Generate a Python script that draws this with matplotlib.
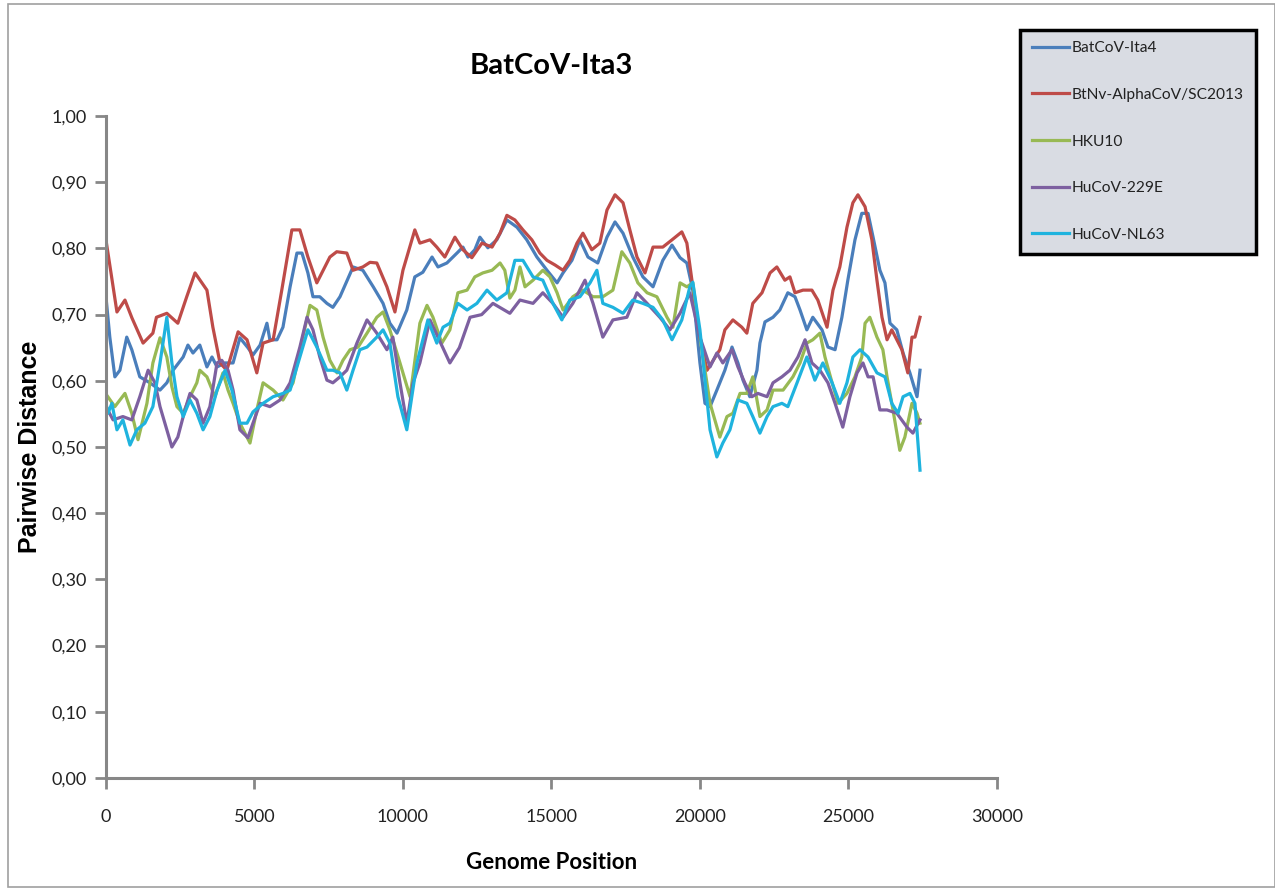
import matplotlib
matplotlib.use("Agg")
import matplotlib.pyplot as plt
import matplotlib.patches as mpatches
from matplotlib.ticker import FuncFormatter, MultipleLocator

# ─── DATA ────────────────────────────────────────────────────────────────────
ita4_x = [0, 130, 300, 470, 700, 870, 1140, 1480, 1820, 2050, 2260, 2600, 2760, 2930,
          3160, 3400, 3570, 3740, 4010, 4280, 4510, 4780, 4950, 5190, 5420, 5520, 5760,
          5960, 6200, 6430, 6600, 6800, 6970, 7200, 7440, 7640, 7880, 8320, 8650, 9000,
          9330, 9560, 9800, 10130, 10400, 10670, 10980, 11180, 11480, 11820, 12020, 12190,
          12420, 12590, 12860, 13160, 13500, 13840, 14170, 14510, 14850, 15190, 15390,
          15690, 15960, 16230, 16560, 16870, 17140, 17410, 17740, 18080, 18420, 18750,
          19060, 19330, 19560, 19760, 20000, 20170, 20340, 20570, 20840, 21080, 21280,
          21450, 21680, 21920, 22020, 22190, 22460, 22690, 22960, 23200, 23370, 23600,
          23800, 24110, 24310, 24550, 24780, 24980, 25220, 25450, 25660, 25830, 26060,
          26230, 26400, 26630, 26840, 27070, 27310, 27410]
ita4_y = [0.727, 0.666, 0.606, 0.616, 0.666, 0.647, 0.606, 0.597, 0.586, 0.597, 0.616,
          0.636, 0.654, 0.642, 0.654, 0.621, 0.636, 0.621, 0.627, 0.627, 0.665, 0.650,
          0.639, 0.654, 0.687, 0.662, 0.662, 0.681, 0.742, 0.793, 0.793, 0.763, 0.727,
          0.727, 0.717, 0.711, 0.727, 0.772, 0.767, 0.742, 0.717, 0.687, 0.672, 0.707,
          0.757, 0.764, 0.787, 0.772, 0.778, 0.793, 0.802, 0.787, 0.798, 0.817, 0.801,
          0.813, 0.843, 0.832, 0.813, 0.787, 0.767, 0.748, 0.763, 0.782, 0.813, 0.787,
          0.778, 0.817, 0.840, 0.823, 0.787, 0.757, 0.742, 0.782, 0.805, 0.786, 0.778,
          0.737, 0.627, 0.566, 0.561, 0.586, 0.616, 0.651, 0.627, 0.601, 0.576, 0.616,
          0.657, 0.689, 0.696, 0.707, 0.733, 0.727, 0.707, 0.677, 0.696, 0.677, 0.651,
          0.647, 0.696, 0.752, 0.813, 0.853, 0.853, 0.817, 0.767, 0.748, 0.687, 0.677,
          0.642, 0.612, 0.576, 0.616]

btnv_x = [0, 370, 640, 875, 1250, 1580, 1700, 2050, 2420, 2720, 3000, 3400, 3600, 3840,
          4070, 4450, 4750, 5080, 5290, 5630, 5920, 6260, 6530, 6800, 7100, 7540, 7770,
          8110, 8320, 8650, 8890, 9120, 9460, 9730, 10000, 10400, 10570, 10910, 11140,
          11410, 11750, 12020, 12320, 12660, 13000, 13270, 13500, 13770, 14040, 14340,
          14610, 14850, 15120, 15390, 15620, 15860, 16060, 16360, 16630, 16870, 17140,
          17410, 17640, 17880, 18150, 18420, 18750, 19060, 19390, 19560, 19760, 20000,
          20240, 20670, 20840, 21110, 21410, 21580, 21780, 22090, 22360, 22590, 22860,
          23030, 23200, 23470, 23770, 23970, 24280, 24480, 24710, 24950, 25150, 25320,
          25560, 25790, 25960, 26130, 26300, 26460, 26630, 26800, 27000, 27140, 27240,
          27410]
btnv_y = [0.813, 0.704, 0.722, 0.695, 0.657, 0.672, 0.696, 0.702, 0.687, 0.727, 0.763,
          0.737, 0.681, 0.627, 0.616, 0.674, 0.662, 0.612, 0.657, 0.662, 0.737, 0.828,
          0.828, 0.787, 0.748, 0.787, 0.795, 0.793, 0.767, 0.772, 0.779, 0.778, 0.742,
          0.704, 0.767, 0.828, 0.808, 0.813, 0.802, 0.787, 0.817, 0.798, 0.786, 0.808,
          0.802, 0.823, 0.850, 0.843, 0.828, 0.813, 0.793, 0.782, 0.775, 0.767, 0.782,
          0.808, 0.823, 0.798, 0.808, 0.858, 0.881, 0.869, 0.828, 0.787, 0.763, 0.802,
          0.802, 0.813, 0.825, 0.808, 0.742, 0.666, 0.616, 0.647, 0.677, 0.692, 0.681,
          0.672, 0.717, 0.733, 0.763, 0.772, 0.752, 0.757, 0.733, 0.737, 0.737, 0.722,
          0.681, 0.737, 0.772, 0.832, 0.869, 0.881, 0.863, 0.813, 0.752, 0.696, 0.662,
          0.677, 0.662, 0.647, 0.612, 0.666, 0.666, 0.696]

hku10_x = [0, 300, 640, 870, 1080, 1380, 1580, 1820, 2050, 2220, 2390, 2600, 2830, 3060,
           3160, 3400, 3670, 3940, 4110, 4280, 4510, 4850, 5080, 5290, 5630, 5960, 6300,
           6630, 6870, 7100, 7310, 7540, 7780, 7980, 8220, 8490, 8790, 9120, 9330, 9560,
           9900, 10240, 10570, 10810, 11010, 11310, 11580, 11850, 12160, 12420, 12690,
           13000, 13270, 13430, 13600, 13770, 13940, 14110, 14380, 14710, 14950, 15190,
           15390, 15720, 16060, 16400, 16730, 17070, 17370, 17640, 17910, 18220, 18550,
           18890, 19090, 19330, 19560, 19760, 20000, 20340, 20670, 20910, 21110, 21350,
           21580, 21780, 22020, 22260, 22460, 22800, 23130, 23370, 23600, 23800, 24040,
           24210, 24450, 24650, 24950, 25220, 25450, 25560, 25720, 25960, 26160, 26300,
           26500, 26730, 26900, 27140, 27310, 27410]
hku10_y = [0.580, 0.561, 0.581, 0.551, 0.511, 0.566, 0.627, 0.665, 0.636, 0.591, 0.561,
           0.551, 0.576, 0.597, 0.616, 0.606, 0.576, 0.612, 0.586, 0.566, 0.536, 0.506,
           0.556, 0.597, 0.586, 0.571, 0.597, 0.666, 0.714, 0.707, 0.666, 0.631, 0.612,
           0.631, 0.647, 0.651, 0.672, 0.696, 0.704, 0.677, 0.627, 0.576, 0.687, 0.714,
           0.696, 0.657, 0.677, 0.733, 0.737, 0.757, 0.763, 0.767, 0.778, 0.767, 0.725,
           0.737, 0.772, 0.742, 0.752, 0.767, 0.757, 0.733, 0.707, 0.727, 0.737, 0.727,
           0.727, 0.737, 0.795, 0.778, 0.748, 0.733, 0.727, 0.696, 0.681, 0.748, 0.742,
           0.748, 0.666, 0.566, 0.515, 0.546, 0.551, 0.581, 0.581, 0.606, 0.546, 0.556,
           0.586, 0.586, 0.606, 0.627, 0.657, 0.662, 0.672, 0.636, 0.597, 0.566, 0.581,
           0.606, 0.636, 0.687, 0.696, 0.666, 0.647, 0.606, 0.556, 0.495, 0.515, 0.566,
           0.551, 0.536]

hu229e_x = [0, 240, 570, 870, 1140, 1420, 1650, 1820, 2050, 2220, 2420, 2660, 2830, 3060,
            3270, 3500, 3740, 3900, 4110, 4280, 4510, 4780, 4950, 5190, 5520, 5860, 6200,
            6530, 6770, 6970, 7200, 7440, 7640, 7880, 8110, 8450, 8790, 9120, 9460, 9660,
            9900, 10130, 10340, 10570, 10910, 11240, 11580, 11900, 12260, 12650, 13030,
            13600, 13940, 14380, 14710, 15050, 15390, 15720, 16130, 16400, 16730, 17070,
            17540, 17880, 18220, 18650, 18990, 19330, 19660, 20000, 20340, 20570, 20770,
            21080, 21280, 21510, 21750, 21950, 22260, 22460, 22760, 23030, 23300, 23540,
            23770, 24040, 24310, 24550, 24810, 25050, 25290, 25490, 25660, 25830, 26060,
            26300, 26630, 26970, 27170, 27410]
hu229e_y = [0.561, 0.541, 0.546, 0.541, 0.576, 0.616, 0.597, 0.561, 0.526, 0.500, 0.515,
            0.556, 0.581, 0.571, 0.536, 0.561, 0.627, 0.631, 0.616, 0.586, 0.526, 0.514,
            0.536, 0.566, 0.561, 0.571, 0.597, 0.651, 0.696, 0.677, 0.636, 0.601, 0.597,
            0.606, 0.616, 0.657, 0.692, 0.672, 0.647, 0.666, 0.597, 0.536, 0.597, 0.627,
            0.692, 0.660, 0.627, 0.650, 0.696, 0.700, 0.717, 0.702, 0.722, 0.717, 0.733,
            0.717, 0.696, 0.717, 0.752, 0.717, 0.666, 0.692, 0.696, 0.733, 0.717, 0.696,
            0.677, 0.702, 0.733, 0.666, 0.621, 0.642, 0.627, 0.647, 0.621, 0.597, 0.576,
            0.581, 0.576, 0.597, 0.606, 0.616, 0.636, 0.662, 0.627, 0.616, 0.597, 0.566,
            0.530, 0.576, 0.612, 0.627, 0.606, 0.606, 0.556, 0.556, 0.551, 0.530, 0.521,
            0.541]

nl63_x = [0, 70, 200, 370, 570, 810, 1040, 1310, 1580, 1820, 2050, 2220, 2390, 2600, 2830,
          3060, 3270, 3500, 3740, 4010, 4240, 4510, 4750, 4950, 5290, 5630, 5960, 6200,
          6530, 6800, 7100, 7440, 7640, 7880, 8110, 8320, 8550, 8790, 9120, 9330, 9560,
          9830, 10130, 10470, 10840, 11140, 11350, 11580, 11850, 12160, 12490, 12830,
          13160, 13500, 13770, 14040, 14380, 14710, 15050, 15350, 15620, 15960, 16300,
          16530, 16730, 17070, 17410, 17740, 18080, 18420, 18750, 19060, 19390, 19660,
          19760, 20000, 20340, 20570, 20770, 21010, 21280, 21580, 21780, 22020, 22260,
          22460, 22760, 22960, 23270, 23600, 23870, 24140, 24450, 24710, 24950, 25150,
          25390, 25660, 25960, 26230, 26460, 26670, 26840, 27070, 27240, 27410]
nl63_y = [0.566, 0.551, 0.566, 0.526, 0.541, 0.503, 0.526, 0.536, 0.561, 0.627, 0.696,
          0.627, 0.576, 0.546, 0.571, 0.551, 0.526, 0.546, 0.586, 0.616, 0.586, 0.536,
          0.536, 0.553, 0.566, 0.576, 0.581, 0.586, 0.636, 0.677, 0.651, 0.616, 0.616,
          0.612, 0.586, 0.616, 0.647, 0.651, 0.666, 0.677, 0.657, 0.576, 0.526, 0.627,
          0.692, 0.657, 0.681, 0.687, 0.717, 0.707, 0.717, 0.737, 0.722, 0.733, 0.782,
          0.782, 0.757, 0.752, 0.717, 0.692, 0.722, 0.727, 0.748, 0.767, 0.717, 0.711,
          0.702, 0.722, 0.717, 0.711, 0.692, 0.662, 0.692, 0.742, 0.749, 0.677, 0.526,
          0.485, 0.506, 0.526, 0.571, 0.566, 0.546, 0.521, 0.546, 0.561, 0.566, 0.561,
          0.597, 0.636, 0.601, 0.627, 0.597, 0.566, 0.597, 0.636, 0.647, 0.636, 0.612,
          0.606, 0.566, 0.551, 0.576, 0.581, 0.566, 0.465]

series_names = ["BatCoV-Ita4", "BtNv-AlphaCoV/SC2013", "HKU10", "HuCoV-229E", "HuCoV-NL63"]
series_colors = ["#4a7ebb", "#be4b48", "#98b954", "#7d60a0", "#1fb3de"]
# ─────────────────────────────────────────────────────────────────────────────

LABEL_FONT = ["Lato", "DejaVu Sans"]
AXIS_GRAY = "#878787"

fig = plt.figure(figsize=(12.75, 8.96), dpi=100)
fig.patch.set_facecolor("white")

# outer chart frame
fig.patches.append(mpatches.Rectangle((0.006, 0.01), 0.994, 0.986, transform=fig.transFigure,
                                      fill=False, edgecolor="#a0a0a0", linewidth=1.2))

ax = fig.add_axes([0.0831, 0.1317, 0.6988, 0.7388])

xs = [ita4_x, btnv_x, hku10_x, hu229e_x, nl63_x]
ys = [ita4_y, btnv_y, hku10_y, hu229e_y, nl63_y]
for x, y, name, color in zip(xs, ys, series_names, series_colors):
    ax.plot(x, y, color=color, linewidth=2.3, label=name, solid_joinstyle="round")

ax.set_xlim(0, 30000)
ax.set_ylim(0, 1.0)
ax.xaxis.set_major_locator(MultipleLocator(5000))
ax.yaxis.set_major_locator(MultipleLocator(0.1))
ax.yaxis.set_major_formatter(FuncFormatter(lambda v, p: f"{v:.2f}".replace(".", ",")))

for side in ("top", "right"):
    ax.spines[side].set_visible(False)
for side in ("left", "bottom"):
    ax.spines[side].set_color(AXIS_GRAY)
    ax.spines[side].set_linewidth(2.2)
ax.tick_params(axis="both", direction="out", length=8, width=2, color=AXIS_GRAY,
               labelsize=13, labelcolor="#222222", pad=6)
ax.tick_params(axis="x", pad=14)
for lab in ax.get_xticklabels() + ax.get_yticklabels():
    lab.set_family(LABEL_FONT)

ax.set_title("BatCoV-Ita3", fontsize=21, fontweight="bold", family=LABEL_FONT, pad=30)
ax.set_xlabel("Genome Position", fontsize=16, fontweight="bold", family=LABEL_FONT)
ax.xaxis.set_label_coords(0.5, -0.112)
ax.set_ylabel("Pairwise Distance", fontsize=18, fontweight="bold",
              family=["Liberation Sans", "DejaVu Sans"])
ax.yaxis.set_label_coords(-0.072, 0.5)

leg = fig.legend(loc="upper left", bbox_to_anchor=(0.8, 0.967), frameon=True,
                 fancybox=False, borderpad=0.75, labelspacing=2.1, handlelength=2.4,
                 handletextpad=0.2, borderaxespad=0.0,
                 prop={"family": LABEL_FONT, "size": 11.2})
frame = leg.get_frame()
frame.set_facecolor("#d9dce3")
frame.set_edgecolor("black")
frame.set_linewidth(2.5)
frame.set_alpha(1)
for t in leg.get_texts():
    t.set_color("#222222")

fig.savefig("out.png", dpi=100, facecolor="white")
